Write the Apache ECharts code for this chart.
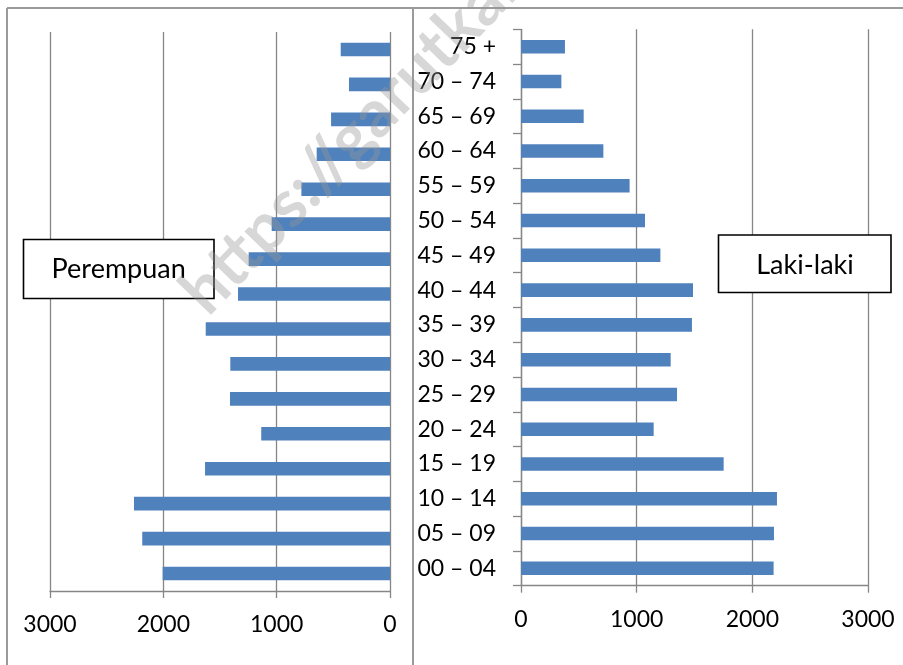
<!DOCTYPE html>
<html>
<head>
<meta charset="utf-8">
<script src="https://cdn.jsdelivr.net/npm/echarts@6/dist/echarts.min.js"></script>
<style>
html,body{margin:0;padding:0;background:#fff;}
#c{width:903px;height:665px;}
</style>
</head>
<body>
<div id="c"></div>
<script>
var categories = ['00 – 04','05 – 09','10 – 14','15 – 19','20 – 24','25 – 29','30 – 34','35 – 39','40 – 44','45 – 49','50 – 54','55 – 59','60 – 64','65 – 69','70 – 74','75 +'];
var perempuan = [2006,2186,2259,1632,1136,1412,1409,1626,1341,1247,1044,782,647,520,362,435];
var lakiLaki = [2184,2187,2213,1752,1147,1349,1294,1478,1487,1205,1072,939,712,542,349,380];
var xTicks = {min:0, max:3000, interval:1000};
var labelPerempuan = 'Perempuan';
var labelLaki = 'Laki-laki';
var watermark = 'https://garutkab.go.id';

var FONT = 'Lato';
var GRID = '#868686';
var BAR = '#4f81bd';
var chart = echarts.init(document.getElementById('c'), null, {renderer:'canvas'});
var axisText = {color:'#000', fontFamily:FONT, fontSize:23};
function plain(v){ return String(v); }

chart.setOption({
  animation:false,
  backgroundColor:'#fff',
  grid:[
    {left:50, right:513, top:32, bottom:74},
    {left:521, right:35, top:29.3, bottom:79.3}
  ],
  xAxis:[
    {gridIndex:0, type:'value', inverse:true, min:xTicks.min, max:xTicks.max, interval:xTicks.interval,
     axisLine:{show:true, lineStyle:{color:GRID, width:1.3}},
     axisTick:{show:true, length:7, lineStyle:{color:GRID, width:1.3}},
     splitLine:{show:true, lineStyle:{color:GRID, width:1.3}},
     axisLabel:Object.assign({margin:22, formatter:plain}, axisText)},
    {gridIndex:1, type:'value', min:xTicks.min, max:xTicks.max, interval:xTicks.interval,
     axisLine:{show:true, lineStyle:{color:GRID, width:1.3}},
     axisTick:{show:true, length:7, lineStyle:{color:GRID, width:1.3}},
     splitLine:{show:true, lineStyle:{color:GRID, width:1.3}},
     axisLabel:Object.assign({margin:22, formatter:plain}, axisText)}
  ],
  yAxis:[
    {gridIndex:0, type:'category', data:categories, position:'right',
     axisLine:{show:false}, axisTick:{show:false}, axisLabel:{show:false}, splitLine:{show:false}},
    {gridIndex:1, type:'category', data:categories,
     axisLine:{show:true, lineStyle:{color:GRID, width:1.3}},
     axisTick:{show:true, length:8, lineStyle:{color:GRID, width:1.3}},
     axisLabel:Object.assign({margin:25}, axisText),
     splitLine:{show:false}}
  ],
  series:[
    {type:'bar', name:labelPerempuan, xAxisIndex:0, yAxisIndex:0, data:perempuan, barWidth:'39%',
     itemStyle:{color:BAR}},
    {type:'bar', name:labelLaki, xAxisIndex:1, yAxisIndex:1, data:lakiLaki, barWidth:'39%',
     itemStyle:{color:BAR}}
  ],
  graphic:[
    {type:'line', shape:{x1:7, y1:8, x2:903, y2:8}, style:{stroke:'#9a9a9a', lineWidth:2}, z:100},
    {type:'line', shape:{x1:7, y1:8, x2:7, y2:665}, style:{stroke:'#9a9a9a', lineWidth:2}, z:100},
    {type:'line', shape:{x1:413, y1:8, x2:413, y2:665}, style:{stroke:'#9a9a9a', lineWidth:2}, z:100},
    {type:'rect', shape:{x:23.5, y:239.5, width:190.5, height:59}, style:{fill:'#fff', stroke:'#000', lineWidth:1.6}, z:100},
    {type:'text', x:118.7, y:269, style:{text:labelPerempuan, fill:'#000', font:'27px Lato', align:'center', verticalAlign:'middle'}, z:101},
    {type:'rect', shape:{x:718.5, y:235, width:172.5, height:57.5}, style:{fill:'#fff', stroke:'#000', lineWidth:1.6}, z:100},
    {type:'text', x:805, y:265, style:{text:labelLaki, fill:'#000', font:'27px Lato', align:'center', verticalAlign:'middle'}, z:101},
    {type:'text', x:193, y:303, rotation:46*Math.PI/180,
     style:{text:watermark, fill:'rgba(150,150,150,0.38)', font:'bold 66px Lato', align:'left', verticalAlign:'middle'}, z:102}
  ]
});
</script>
</body>
</html>
